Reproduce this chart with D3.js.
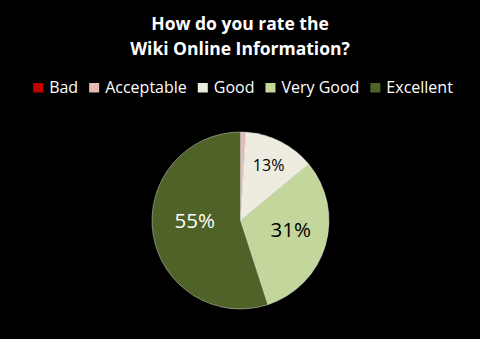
<!DOCTYPE html>
<html>
<head>
<meta charset="utf-8">
<script src="https://cdn.jsdelivr.net/npm/d3@7"></script>
<style>
  html, body { margin: 0; padding: 0; background: #000; }
  svg { display: block; }
</style>
</head>
<body>
<script>
var width = 480;
var height = 339;

// chart data
var categories = ["Bad", "Acceptable", "Good", "Very Good", "Excellent"];
var values = [0, 1, 13, 31, 55];
var colors = ["#c00000", "#e6b9b8", "#eeece1", "#c3d69b", "#4f6228"];
var labelColors = ["#000", "#000", "#000", "#000", "#fff"];
var labelSizes = [14, 14, 16, 20.5, 20.5];
var labelNudge = [[0, 0], [0, 0], [0, 0], [1, -5], [5, -8]];
var titleLines = ["How do you rate the", "Wiki Online Information?"];

var font = "'Open Sans', Lato, sans-serif";

var svg = d3.select("body").append("svg")
    .attr("width", width)
    .attr("height", height);

svg.append("rect")
    .attr("width", width)
    .attr("height", height)
    .attr("fill", "#000");

// title
svg.append("g").selectAll("text")
    .data(titleLines)
    .enter().append("text")
    .attr("x", 240)
    .attr("y", function(d, i) { return 30 + i * 25; })
    .attr("text-anchor", "middle")
    .attr("fill", "#fff")
    .attr("font-family", font)
    .attr("font-weight", "bold")
    .attr("font-size", 17.5)
    .text(function(d) { return d; });

// legend, laid out from measured text widths and centred
var legend = svg.append("g");
var items = legend.selectAll("g")
    .data(categories)
    .enter().append("g");

items.append("rect")
    .attr("width", 10)
    .attr("height", 9.5)
    .attr("y", 83)
    .attr("fill", function(d, i) { return colors[i]; });

items.append("text")
    .attr("x", 16)
    .attr("y", 92.5)
    .attr("fill", "#fff")
    .attr("font-family", font)
    .attr("font-size", 16)
    .text(function(d) { return d; });

var gap = 11;
var xPos = 0;
items.each(function() {
    var w = d3.select(this).select("text").node().getComputedTextLength();
    d3.select(this).attr("transform", "translate(" + xPos + ",0)");
    xPos += 16 + w + gap;
});
xPos -= gap;
legend.attr("transform", "translate(" + ((width - xPos) / 2 + 3) + ",0)");

// pie
var cx = 240.5, cy = 220.5, radius = 88.5;

var pie = d3.pie().sort(null).value(function(d) { return d; });
var arc = d3.arc().innerRadius(0).outerRadius(radius);

var arcs = pie(values);

var pieG = svg.append("g")
    .attr("transform", "translate(" + cx + "," + cy + ")");

pieG.selectAll("path")
    .data(arcs)
    .enter().append("path")
    .attr("d", arc)
    .attr("fill", function(d, i) { return colors[i]; })
    .attr("stroke", function(d) { return d.value > 0 ? "#fff" : "none"; })
    .attr("stroke-width", 0.4);

// percent labels for the bigger slices
var labelArc = d3.arc().innerRadius(radius * 0.58).outerRadius(radius * 0.58);
var labelArcSmall = d3.arc().innerRadius(radius * 0.7).outerRadius(radius * 0.7);

pieG.selectAll("text")
    .data(arcs.filter(function(d) { return d.value >= 5; }))
    .enter().append("text")
    .attr("transform", function(d) {
        var a = d.value < 20 ? labelArcSmall : labelArc;
        var c = a.centroid(d);
        var n = labelNudge[d.index];
        return "translate(" + (c[0] + n[0]) + "," + (c[1] + n[1]) + ")";
    })
    .attr("dy", "0.36em")
    .attr("text-anchor", "middle")
    .attr("font-family", font)
    .attr("font-size", function(d) { return labelSizes[d.index]; })
    .attr("fill", function(d) { return labelColors[d.index]; })
    .text(function(d) { return d.value + "%"; });
</script>
</body>
</html>
